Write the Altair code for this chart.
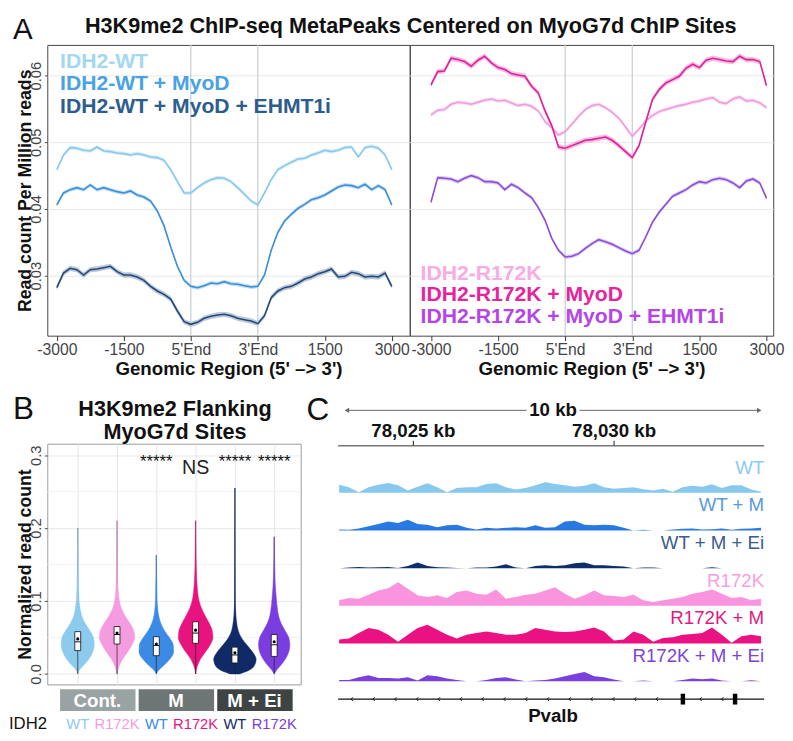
import json
import altair as alt
import pandas as pd

FONT = "Liberation Sans"
GREY = "#444444"

# ================= Panel A data =================
POS = [round(0.1 * i, 1) for i in range(51)]
X_TICKS = [0, 1, 2, 3, 4, 5]
X_LABELS = ["-3000", "-1500", "5'End", "3'End", "1500", "3000"]
A_Y_TICKS = [0.03, 0.04, 0.05, 0.06]
A_Y_DOMAIN = [0.0210, 0.0646]

A_WT = [0.0459, 0.0481, 0.0492, 0.0491, 0.0488, 0.0487, 0.0493, 0.0487, 0.0486, 0.0484,
        0.0483, 0.0481, 0.0483, 0.0481, 0.0478, 0.0477, 0.0473, 0.0459, 0.0441, 0.0424,
        0.0424, 0.0432, 0.0439, 0.0444, 0.0447, 0.0446, 0.0441, 0.0432, 0.0422, 0.0412,
        0.0406, 0.0424, 0.0444, 0.0459, 0.0465, 0.0470, 0.0475, 0.0476, 0.0481, 0.0484,
        0.0488, 0.0486, 0.0488, 0.0492, 0.0493, 0.0478, 0.0492, 0.0494, 0.0491, 0.0481,
        0.0459]
A_WT_M = [0.0406, 0.0424, 0.0429, 0.0432, 0.0429, 0.0436, 0.0429, 0.0432, 0.0429, 0.0426,
          0.0424, 0.0427, 0.0421, 0.0418, 0.0412, 0.0397, 0.0375, 0.0343, 0.0314, 0.0293,
          0.0284, 0.0282, 0.0285, 0.0289, 0.0288, 0.0291, 0.0288, 0.0287, 0.0285, 0.0283,
          0.0284, 0.0301, 0.0338, 0.0365, 0.0382, 0.0392, 0.0401, 0.0407, 0.0414, 0.0417,
          0.0421, 0.0427, 0.0433, 0.0436, 0.0435, 0.0432, 0.0437, 0.0429, 0.0435, 0.0429,
          0.0406]
A_WT_M_EI = [0.0282, 0.0304, 0.0311, 0.0309, 0.0301, 0.0309, 0.0310, 0.0312, 0.0314, 0.0306,
             0.0301, 0.0301, 0.0298, 0.0293, 0.0284, 0.0277, 0.0272, 0.0265, 0.0247, 0.0231,
             0.0227, 0.0230, 0.0236, 0.0239, 0.0241, 0.0242, 0.0240, 0.0236, 0.0234, 0.0232,
             0.0228, 0.0240, 0.0267, 0.0277, 0.0282, 0.0284, 0.0289, 0.0295, 0.0298, 0.0303,
             0.0306, 0.0310, 0.0298, 0.0299, 0.0305, 0.0303, 0.0298, 0.0299, 0.0298, 0.0304,
             0.0284]
A_R = [0.0541, 0.0548, 0.0549, 0.0557, 0.0560, 0.0559, 0.0557, 0.0560, 0.0563, 0.0565,
       0.0562, 0.0563, 0.0559, 0.0555, 0.0557, 0.0554, 0.0547, 0.0531, 0.0522, 0.0511,
       0.0516, 0.0527, 0.0539, 0.0549, 0.0555, 0.0557, 0.0552, 0.0545, 0.0536, 0.0523,
       0.0509, 0.0520, 0.0532, 0.0540, 0.0546, 0.0549, 0.0552, 0.0555, 0.0557, 0.0560,
       0.0562, 0.0565, 0.0567, 0.0560, 0.0558, 0.0565, 0.0568, 0.0562, 0.0563, 0.0559,
       0.0552]
A_R_M = [0.0586, 0.0606, 0.0607, 0.0626, 0.0624, 0.0621, 0.0614, 0.0623, 0.0629, 0.0619,
         0.0612, 0.0609, 0.0603, 0.0601, 0.0599, 0.0584, 0.0574, 0.0547, 0.0525, 0.0493,
         0.0491, 0.0495, 0.0499, 0.0503, 0.0504, 0.0506, 0.0508, 0.0503, 0.0495, 0.0486,
         0.0477, 0.0495, 0.0530, 0.0564, 0.0579, 0.0589, 0.0594, 0.0599, 0.0611, 0.0617,
         0.0612, 0.0623, 0.0626, 0.0624, 0.0622, 0.0621, 0.0629, 0.0624, 0.0624, 0.0621,
         0.0585]
A_R_M_EI = [0.0410, 0.0447, 0.0446, 0.0445, 0.0441, 0.0446, 0.0450, 0.0447, 0.0441, 0.0441,
            0.0439, 0.0429, 0.0437, 0.0432, 0.0424, 0.0417, 0.0402, 0.0383, 0.0356, 0.0338,
            0.0328, 0.0329, 0.0333, 0.0341, 0.0348, 0.0354, 0.0351, 0.0347, 0.0342, 0.0337,
            0.0333, 0.0338, 0.0358, 0.0380, 0.0395, 0.0407, 0.0419, 0.0424, 0.0429, 0.0436,
            0.0441, 0.0439, 0.0444, 0.0446, 0.0444, 0.0439, 0.0432, 0.0442, 0.0445, 0.0439,
            0.0416]

A_LEFT_NAMES = ["IDH2-WT", "IDH2-WT + MyoD", "IDH2-WT + MyoD + EHMT1i"]
A_RIGHT_NAMES = ["IDH2-R172K", "IDH2-R172K + MyoD", "IDH2-R172K + MyoD + EHMT1i"]
A_LEFT_SERIES = [A_WT, A_WT_M, A_WT_M_EI]
A_RIGHT_SERIES = [A_R, A_R_M, A_R_M_EI]
A_LEFT_BAND = [0.0003, 0.0003, 0.0004]
A_RIGHT_BAND = [0.0003, 0.0004, 0.0003]
A_LEFT_LINE = ["#86c8ee", "#3a8fdc", "#22497d"]
A_LEFT_TEXT = ["#a3d7f3", "#49a2e6", "#2d5c8e"]
A_RIGHT_LINE = ["#f199dd", "#e0209a", "#8a4ed8"]
A_RIGHT_TEXT = ["#f6ade3", "#e6249c", "#b545e8"]

# ================= Panel B data =================
B_POS = [1, 2, 3, 4, 5, 6]
B_LABELS = ["WT", "R172K", "WT", "R172K", "WT", "R172K"]
B_COLORS = ["#8ccbee", "#f59be0", "#3a8ae6", "#e8137f", "#0f2a66", "#7a3de0"]
V_LEVELS = [0, 0.005, 0.01, 0.02, 0.03, 0.04, 0.05, 0.06, 0.07, 0.08, 0.09, 0.10, 0.12, 0.14, 0.16]
V_WIDTH = [
    [0, 0.04, 0.12, 0.28, 0.38, 0.42, 0.40, 0.30, 0.18, 0.10, 0.06, 0.035, 0.02, 0.012, 0.008],
    [0, 0.02, 0.05, 0.14, 0.27, 0.38, 0.45, 0.42, 0.32, 0.20, 0.11, 0.06, 0.025, 0.012, 0.008],
    [0, 0.06, 0.16, 0.34, 0.44, 0.43, 0.33, 0.20, 0.11, 0.06, 0.035, 0.02, 0.012, 0.006, 0.003],
    [0, 0.015, 0.04, 0.12, 0.25, 0.37, 0.44, 0.42, 0.34, 0.24, 0.15, 0.09, 0.04, 0.02, 0.012],
    [0.12, 0.36, 0.48, 0.54, 0.45, 0.30, 0.16, 0.08, 0.045, 0.025, 0.015, 0.01, 0.007, 0.005, 0.004],
    [0, 0.06, 0.14, 0.28, 0.37, 0.40, 0.37, 0.27, 0.17, 0.11, 0.08, 0.06, 0.03, 0.015, 0.008],
]
V_TOP = [0.20, 0.21, 0.163, 0.21, 0.255, 0.188]
BOX_Q1 = [0.032, 0.041, 0.025, 0.042, 0.015, 0.024]
BOX_MED = [0.044, 0.054, 0.039, 0.056, 0.026, 0.040]
BOX_Q3 = [0.058, 0.065, 0.051, 0.0715, 0.0367, 0.054]
BOX_MEAN = [0.048, 0.056, 0.041, 0.060, 0.029, 0.044]
SIG_POS = [3, 4, 5, 6]
SIG_TEXT = ["*****", "NS", "*****", "*****"]
STRIP_LABELS = ["Cont.", "M", "M + Ei"]
STRIP_MEMBERS = [[1, 2], [3, 4], [5, 6]]
STRIP_COLORS = ["#9aa3a3", "#6d7575", "#3e4444"]

# ================= Panel C data =================
C_TICKS = [78025, 78030]
C_TICK_LABELS = ["78,025 kb", "78,030 kb"]
C_SCALEBAR = [78023.345, 78033.616]
C_TRACK_NAMES = ["WT", "WT + M", "WT + M + Ei", "R172K", "R172K + M", "R172K + M + Ei"]
C_TRACK_FILL = ["#87c9ee", "#2979e3", "#0e2d6b", "#fa94df", "#ea1283", "#7a40dd"]
C_TRACK_TEXT = ["#8ccbee", "#5a9ae0", "#3a5c8c", "#f99ee0", "#e01a80", "#7a45d6"]
C_WT = [8.3, 5.7, 0.7, 5.7, 8.3, 10, 7.7, 2.3, 6.3, 9.7, 5.7, 0.7, 5, 5.7, 5.7, 9, 9.7, 5.7, 3.3, 5,
        7.7, 10.7, 9, 7.7, 6.3, 7.3, 9.7, 5.7, 4.3, 5, 5.7, 3.7, 2.3, 4.3, 1, 5.7, 7.3, 6.3, 8.7, 5,
        7.7, 7.7, 3.3, 1]
C_WT_M = [1, 0.7, 2, 4.3, 6.7, 9.3, 7.7, 11, 6.7, 6, 3.3, 5.3, 6, 2.7, 1, 2.7, 2, 2.7, 3.3, 2.7,
          5.3, 2.7, 3.3, 9.3, 10, 6, 5.3, 6, 5.3, 2.7, 0, 0.7, 0, 0, 1, 1.7, 2, 1, 1.3, 2,
          0.7, 1.7, 2, 2.7]
C_WT_M_EI = [0, 0.7, 1.3, 0.7, 1, 1.3, 0.3, 2.3, 5.7, 2.3, 1, 0.7, 0.3, 0, 0.7, 0.7, 1.7, 4, 0.7, 0,
             2.3, 3, 2.3, 3, 5, 5.7, 3, 3, 2.3, 1.7, 0, 0.7, 0.7, 0, 0, 0, 0, 0, 1, 0,
             0, 0, 0, 0]
C_R = [5.7, 8, 7.3, 11.3, 15.7, 18, 24, 17.3, 10.7, 9, 10.7, 8, 14, 15.7, 12.3, 11.3, 16.7, 7.3, 9, 11.3,
       12.3, 15.7, 19, 12.3, 7.3, 10.7, 15.7, 10.7, 10, 9, 11.3, 5.7, 4, 5.7, 7.3, 9, 12.3, 14, 16.7, 12.3,
       8, 9, 5.7, 7.3]
C_R_M = [4, 5, 10.7, 15.7, 14, 9, 1.7, 9, 15.7, 19, 14, 9, 5, 9, 10.7, 12.3, 10.7, 9, 9, 10.7,
         15.7, 14, 12.3, 11.7, 12.3, 14, 16.3, 12.3, 3, 4, 12.3, 9, 1.7, 5.7, 6.3, 9, 9.7, 10.7, 16.3, 9,
         0.7, 7.3, 9, 7.3]
C_R_M_EI = [1.3, 1.3, 4, 6, 3.3, 3.3, 2.7, 4, 0.7, 6, 5, 2.7, 1.3, 0, 0, 1.3, 3.3, 4, 1.7, 0,
            0.7, 1.3, 2.7, 5, 7.3, 9.3, 5, 4, 1.7, 0, 0, 0.7, 0, 0, 0, 1.3, 2.7, 2, 2.7, 0.7,
            0, 0, 1, 0]
C_TRACKS = [C_WT, C_WT_M, C_WT_M_EI, C_R, C_R_M, C_R_M_EI]
C_EXONS = [(78031.66, 78031.77), (78032.96, 78033.07)]
GENE_NAME = "Pvalb"

# ================= layout constants =================
C_BIN_START, C_BIN_STEP = 78023.15, 0.2445
C_VIEW = (78023.125, 78033.74)
C_XDOM = [78022.291, 78034.039]
TRACK_BASE0, TRACK_GAP = 238.0, 38.35
LEGEND_SIZE = 21.5


def txt(text, x, y, size, color="#111111", weight="normal", align="left",
        baseline="middle", font=FONT):
    return alt.Chart(pd.DataFrame({"t": [text]})).mark_text(
        align=align, baseline=baseline, font=font, fontSize=size,
        fontWeight=weight, color=color
    ).encode(text="t:N", x=alt.value(x), y=alt.value(y))


def y_axis(values, fmt, title, title_y):
    return alt.Axis(values=values, format=fmt, grid=True, gridColor="#e8e8e8",
                    tickSize=3, tickColor="#444", domain=False, labelAngle=270,
                    labelAlign="center", labelBaseline="bottom", labelFont=FONT,
                    labelFontSize=15, labelColor=GREY, labelPadding=1,
                    title=title, titleFont=FONT, titleFontSize=18,
                    titleFontWeight="bold", titleColor="#111", titleAngle=270,
                    titleX=-13, titleY=title_y, titleBaseline="bottom", titleAlign="center")


# ================= Panel A =================
def a_panel(names, series, bands, line_colors, text_colors, width, xdom, left,
            legend_x, legend_ys, extra=()):
    rows = []
    for name, vals, band in zip(names, series, bands):
        for p, v in zip(POS, vals):
            rows.append({"series": name, "pos": p, "value": v,
                         "lo": v - band, "hi": v + band})
    df = pd.DataFrame(rows)
    xs = alt.Scale(domain=xdom, nice=False, zero=False)
    ys = alt.Scale(domain=A_Y_DOMAIN, nice=False, zero=False)
    xaxis = alt.Axis(values=X_TICKS, labelExpr=f"{json.dumps(X_LABELS)}[datum.value]",
                     grid=False, tickSize=5, tickColor="#333", domain=False,
                     labelFont=FONT, labelFontSize=16, labelColor=GREY, labelPadding=1,
                     labelFlush=False, labelOverlap=False,
                     title="Genomic Region (5' \u2013> 3')", titleFont=FONT,
                     titleFontSize=19, titleFontWeight="bold", titleColor="#111",
                     titlePadding=3)
    if left:
        yaxis = y_axis(A_Y_TICKS, ".2f", "Read count Per Million reads", 148)
    else:
        yaxis = alt.Axis(values=A_Y_TICKS, grid=True, gridColor="#e8e8e8", labels=False,
                         ticks=False, domain=False, title=None, minExtent=0, maxExtent=0)
    color = alt.Color("series:N", scale=alt.Scale(domain=names, range=line_colors),
                      legend=None)
    x = alt.X("pos:Q", scale=xs, axis=xaxis)
    band = alt.Chart(df).mark_area(opacity=0.3).encode(
        x=x, y=alt.Y("lo:Q", scale=ys, axis=yaxis), y2="hi:Q", color=color)
    vrules = alt.Chart(pd.DataFrame({"pos": [2, 3]})).mark_rule(
        color="#c5ced4", strokeWidth=1.2).encode(x=x)
    line = alt.Chart(df).mark_line(strokeWidth=1.6).encode(
        x=x, y=alt.Y("value:Q", scale=ys, axis=yaxis), color=color)
    legend = [txt(n, legend_x, ly, LEGEND_SIZE, c, "bold") for n, c, ly in
              zip(names, text_colors, legend_ys)]
    return alt.layer(band, vrules, line, *legend, *extra).properties(
        width=width, height=296,
        view=alt.ViewBackground(stroke="#444444", strokeWidth=1))


a_left = a_panel(A_LEFT_NAMES, A_LEFT_SERIES, A_LEFT_BAND, A_LEFT_LINE, A_LEFT_TEXT,
                 369, [-0.142, 5.268], True, 13, [17, 40, 63],
                 extra=[txt("A", -35, -15, 30),
                        txt("H3K9me2 ChIP-seq MetaPeaks Centered on MyoG7d ChIP Sites",
                            370, -19, 22, "#111", "bold", "center")])
a_right = a_panel(A_RIGHT_NAMES, A_RIGHT_SERIES, A_RIGHT_BAND, A_RIGHT_LINE, A_RIGHT_TEXT,
                  370, [-0.316, 5.10], False, 11, [233, 255, 277])

# ================= Panel B =================
bxs = alt.Scale(domain=[0.225, 6.675], nice=False, zero=False)
bys = alt.Scale(domain=[-0.0144, 0.3157], nice=False, zero=False)
bxaxis = alt.Axis(values=B_POS, grid=True, gridColor="#e6e6e6", labels=False, ticks=False,
                  domain=False, title=None)
byaxis = y_axis([0, 0.1, 0.2, 0.3], ".1f", "Normalized read count", 122.5)
bcolor = alt.Color("grp:N", scale=alt.Scale(domain=B_POS, range=B_COLORS), legend=None)

vrows = []
for i, p in enumerate(B_POS):
    for lv, w in zip(V_LEVELS, V_WIDTH[i]):
        if lv < V_TOP[i]:
            vrows.append({"grp": p, "y": lv, "xl": p - w, "xr": p + w})
    vrows.append({"grp": p, "y": V_TOP[i], "xl": p, "xr": p})
vdf = pd.DataFrame(vrows)
box_df = pd.DataFrame({"grp": B_POS, "q1": BOX_Q1, "med": BOX_MED, "q3": BOX_Q3,
                       "mean": BOX_MEAN, "top": V_TOP, "bottom": [0] * 6})
box_df["bl"] = box_df["grp"] - 0.075
box_df["br"] = box_df["grp"] + 0.075

minor = alt.Chart(pd.DataFrame({"v": [0.05, 0.15, 0.25]})).mark_rule(
    color="#f1f1f1", strokeWidth=1).encode(y=alt.Y("v:Q", scale=bys, axis=byaxis))
whisk = alt.Chart(box_df).mark_rule(color="#333333", strokeWidth=0.8).encode(
    x=alt.X("grp:Q", scale=bxs, axis=bxaxis), y=alt.Y("bottom:Q", scale=bys, axis=byaxis),
    y2="top:Q")
violin = alt.Chart(vdf).mark_area(orient="horizontal", interpolate="monotone",
                                  strokeWidth=0.5).encode(
    y=alt.Y("y:Q", scale=bys, axis=byaxis), x=alt.X("xl:Q", scale=bxs, axis=bxaxis),
    x2="xr:Q", color=bcolor, stroke=alt.Stroke("grp:N", scale=alt.Scale(
        domain=B_POS, range=B_COLORS), legend=None), detail="grp:N")
whisk2 = alt.Chart(box_df).mark_rule(color="#222222", strokeWidth=0.7).encode(
    x=alt.X("grp:Q", scale=bxs, axis=bxaxis), y=alt.Y("bottom:Q", scale=bys, axis=byaxis),
    y2="q1:Q")
boxes = alt.Chart(box_df).mark_rect(fill="white", stroke="#111111", strokeWidth=0.8).encode(
    x=alt.X("bl:Q", scale=bxs, axis=bxaxis), x2="br:Q",
    y=alt.Y("q1:Q", scale=bys, axis=byaxis), y2="q3:Q")
meds = alt.Chart(box_df).mark_rule(color="#111111", strokeWidth=1).encode(
    x=alt.X("bl:Q", scale=bxs, axis=bxaxis), x2="br:Q",
    y=alt.Y("med:Q", scale=bys, axis=byaxis))
means = alt.Chart(box_df).mark_point(filled=True, color="#000000", size=10, opacity=1).encode(
    x=alt.X("grp:Q", scale=bxs, axis=bxaxis), y=alt.Y("mean:Q", scale=bys, axis=byaxis))
sig_df = pd.DataFrame({"x": SIG_POS, "t": SIG_TEXT, "y": [0.29] * 4})
stars = alt.Chart(sig_df).transform_filter("datum.t != 'NS'").mark_text(
    font=FONT, fontSize=17, baseline="middle", color="#111").encode(
    x=alt.X("x:Q", scale=bxs, axis=bxaxis), y=alt.Y("y:Q", scale=bys, axis=byaxis),
    text="t:N")
ns = alt.Chart(sig_df).transform_filter("datum.t == 'NS'").mark_text(
    font=FONT, fontSize=20, baseline="middle", color="#222", dy=6).encode(
    x=alt.X("x:Q", scale=bxs, axis=bxaxis), y=alt.Y("y:Q", scale=bys, axis=byaxis),
    text="t:N")
strip_df = pd.DataFrame({
    "label": STRIP_LABELS,
    "x0": [min(m) - 0.45 for m in STRIP_MEMBERS],
    "x1": [max(m) + 0.47 for m in STRIP_MEMBERS],
    "xc": [sum(m) / len(m) for m in STRIP_MEMBERS],
    "color": STRIP_COLORS})
strips = alt.Chart(strip_df).mark_rect().encode(
    x=alt.X("x0:Q", scale=bxs, axis=bxaxis), x2="x1:Q",
    y=alt.value(250), y2=alt.value(272), color=alt.Color("color:N", scale=None))
strip_txt = alt.Chart(strip_df).mark_text(font=FONT, fontSize=19, fontWeight="bold",
                                         color="white", baseline="middle").encode(
    x=alt.X("xc:Q", scale=bxs, axis=bxaxis), y=alt.value(261.5), text="label:N")
lab_df = pd.DataFrame({"x": B_POS, "t": B_LABELS, "c": B_COLORS})
cat_txt = alt.Chart(lab_df).mark_text(font=FONT, fontSize=15, baseline="middle").encode(
    x=alt.X("x:Q", scale=bxs, axis=bxaxis), y=alt.value(285), text="t:N",
    color=alt.Color("c:N", scale=None))

b_chart = alt.layer(
    minor, whisk, violin, whisk2, boxes, meds, means, stars, ns, strips, strip_txt, cat_txt,
    txt("IDH2", -39, 285, 17, "#111", "normal", "left"),
    txt("B", -35, -35, 32),
    txt("H3K9me2 Flanking", 130, -35, 22, "#111", "bold", "center"),
    txt("MyoG7d Sites", 130, -12, 22, "#111", "bold", "center"),
).properties(width=258, height=245,
             view=alt.ViewBackground(stroke="#9a9a9a", strokeWidth=1))

# ================= Panel C =================
cxs = alt.Scale(domain=C_XDOM, nice=False, zero=False)
cys = alt.Scale(domain=[0, 288], nice=False, zero=False)

trows = []
for k, (name, vals) in enumerate(zip(C_TRACK_NAMES, C_TRACKS)):
    base = TRACK_BASE0 - k * TRACK_GAP
    for i, v in enumerate(vals):
        trows.append({"track": name, "x": C_BIN_START + i * C_BIN_STEP,
                      "base": base, "top": base + v})
tdf = pd.DataFrame(trows)
tcolor = alt.Color("track:N", scale=alt.Scale(domain=C_TRACK_NAMES, range=C_TRACK_FILL),
                   legend=None)
tracks = alt.Chart(tdf).mark_area(interpolate="linear").encode(
    x=alt.X("x:Q", scale=cxs, axis=None), y=alt.Y("top:Q", scale=cys, axis=None),
    y2="base:Q", color=tcolor, detail="track:N")
tl_df = pd.DataFrame({"t": C_TRACK_NAMES, "c": C_TRACK_TEXT,
                      "y": [TRACK_BASE0 - k * TRACK_GAP + 25.5 for k in range(6)],
                      "x": [C_VIEW[1]] * 6})
track_labels = alt.Chart(tl_df).mark_text(font=FONT, fontSize=19, align="right",
                                         baseline="middle").encode(
    x=alt.X("x:Q", scale=cxs, axis=None), y=alt.Y("y:Q", scale=cys, axis=None),
    text="t:N", color=alt.Color("c:N", scale=None))

line_df = pd.DataFrame({"x0": [C_VIEW[0], C_VIEW[0]], "x1": [C_VIEW[1], C_VIEW[1]],
                        "y": [286, 28], "c": ["#777777", "#111111"],
                        "w": [1.6, 1.2]})
hlines = alt.Chart(line_df).mark_rule().encode(
    x=alt.X("x0:Q", scale=cxs, axis=None), x2="x1:Q",
    y=alt.Y("y:Q", scale=cys, axis=None), color=alt.Color("c:N", scale=None),
    strokeWidth=alt.StrokeWidth("w:Q", scale=None))
tick_df = pd.DataFrame({"x": C_TICKS, "t": C_TICK_LABELS, "y0": [286] * 2, "y1": [291] * 2,
                        "ly": [301] * 2})
coord_ticks = alt.Chart(tick_df).mark_rule(color="#444", strokeWidth=1.2).encode(
    x=alt.X("x:Q", scale=cxs, axis=None), y=alt.Y("y0:Q", scale=cys, axis=None), y2="y1:Q")
coord_txt = alt.Chart(tick_df).mark_text(font=FONT, fontSize=19, fontWeight="bold",
                                        baseline="middle", color="#111").encode(
    x=alt.X("x:Q", scale=cxs, axis=None), y=alt.Y("ly:Q", scale=cys, axis=None), text="t:N")
mid = (C_SCALEBAR[0] + C_SCALEBAR[1]) / 2
sb_df = pd.DataFrame({"x0": [C_SCALEBAR[0], mid + 0.66], "x1": [mid - 0.66, C_SCALEBAR[1]],
                      "y": [322, 322]})
sb_lines = alt.Chart(sb_df).mark_rule(color="#666", strokeWidth=1).encode(
    x=alt.X("x0:Q", scale=cxs, axis=None), x2="x1:Q", y=alt.Y("y:Q", scale=cys, axis=None))
arrow_df = pd.DataFrame({"x": C_SCALEBAR, "y": [322, 322],
                         "s": ["triangle-left", "triangle-right"]})
arrows = alt.Chart(arrow_df).mark_point(filled=True, color="#666", size=28, opacity=1).encode(
    x=alt.X("x:Q", scale=cxs, axis=None), y=alt.Y("y:Q", scale=cys, axis=None),
    shape=alt.Shape("s:N", scale=None))
sb_txt = alt.Chart(pd.DataFrame({"x": [mid], "y": [322], "t": ["10 kb"]})).mark_text(
    font=FONT, fontSize=19, fontWeight="bold", baseline="middle", color="#111").encode(
    x=alt.X("x:Q", scale=cxs, axis=None), y=alt.Y("y:Q", scale=cys, axis=None), text="t:N")
chev_x = []
cx = 78023.47
while cx < C_VIEW[1] - 0.1:
    if all(not (a - 0.2 < cx < b + 0.2) for a, b in C_EXONS):
        chev_x.append(cx)
    cx += 0.543
chevrons = alt.Chart(pd.DataFrame({"x": chev_x, "y": [28] * len(chev_x)})).mark_point(
    shape="M 0.5 -1 L -0.5 0 L 0.5 1", filled=False, color="#111", size=14,
    strokeWidth=1, opacity=1).encode(
    x=alt.X("x:Q", scale=cxs, axis=None), y=alt.Y("y:Q", scale=cys, axis=None))
exon_df = pd.DataFrame({"x0": [a for a, b in C_EXONS], "x1": [b for a, b in C_EXONS],
                        "y0": [22.5, 22.5], "y1": [33.5, 33.5]})
exons = alt.Chart(exon_df).mark_rect(color="#000").encode(
    x=alt.X("x0:Q", scale=cxs, axis=None), x2="x1:Q",
    y=alt.Y("y0:Q", scale=cys, axis=None), y2="y1:Q")
gene_txt = alt.Chart(pd.DataFrame({"x": [78028.48], "y": [11], "t": [GENE_NAME]})).mark_text(
    font=FONT, fontSize=19, fontWeight="bold", baseline="middle", color="#111").encode(
    x=alt.X("x:Q", scale=cxs, axis=None), y=alt.Y("y:Q", scale=cys, axis=None), text="t:N")

c_chart = alt.layer(
    tracks, track_labels, hlines, coord_ticks, coord_txt, sb_lines, arrows, sb_txt,
    chevrons, exons, gene_txt, txt("C", 2, -34, 32),
).properties(width=480, height=288,
             view=alt.ViewBackground(stroke="transparent"))

IND = dict(color="independent", stroke="independent", shape="independent",
           strokeWidth="independent")
row_a = alt.hconcat(a_left, a_right, spacing=0, bounds="flush").resolve_scale(**IND)
row_b = alt.hconcat(b_chart, c_chart, spacing=4, bounds="flush").resolve_scale(**IND)
chart = alt.vconcat(row_a, row_b, spacing=13, bounds="full").resolve_scale(**IND).properties(
    padding=0, background="white")

chart.save("out.html", embed_options={"renderer": "svg", "actions": False})
